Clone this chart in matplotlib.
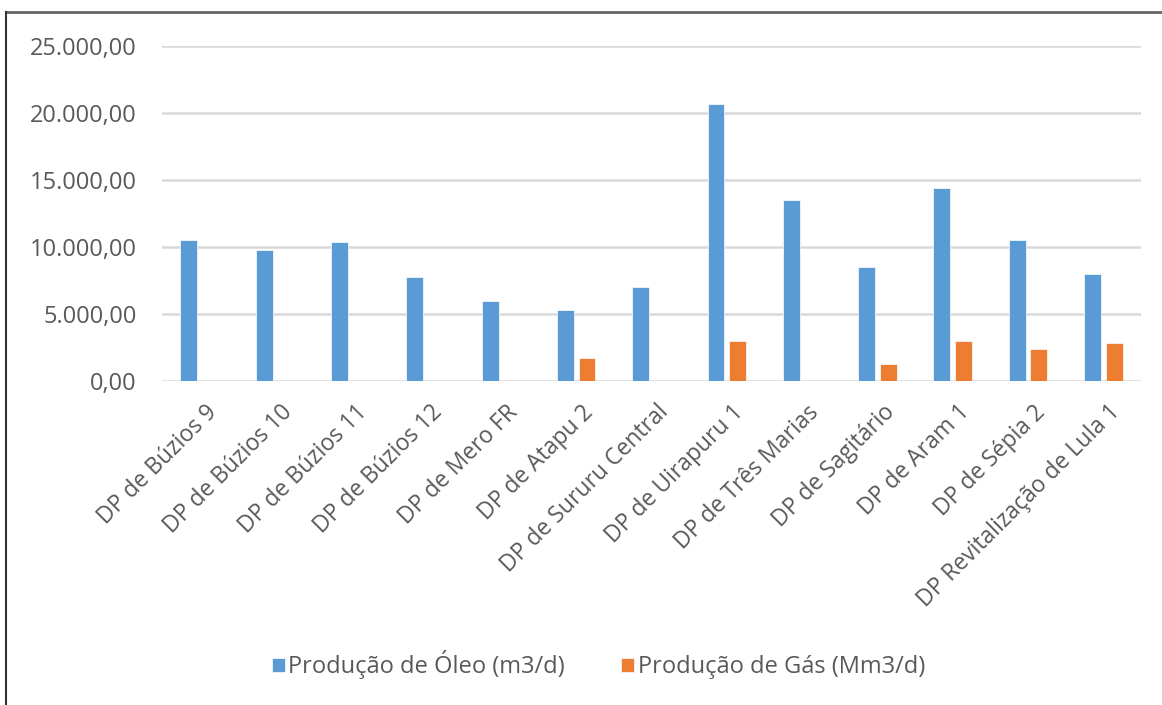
import numpy as np
import matplotlib.pyplot as plt
from matplotlib.lines import Line2D
from matplotlib.ticker import FuncFormatter
from matplotlib.transforms import ScaledTranslation

plt.rcParams['font.family'] = ['Open Sans', 'DejaVu Sans']

projetos = ['DP de Búzios 9', 'DP de Búzios 10', 'DP de Búzios 11', 'DP de Búzios 12',
            'DP de Mero FR', 'DP de Atapu 2', 'DP de Sururu Central', 'DP de Uirapuru 1',
            'DP de Três Marias', 'DP de Sagitário', 'DP de Aram 1', 'DP de Sépia 2',
            'DP Revitalização de Lula 1']
oleo = [10500, 9800, 10400, 7750, 6000, 5300, 7000, 20700, 13500, 8500, 14400, 10500, 8000]
gas = [0, 0, 0, 0, 0, 1750, 0, 2950, 0, 1300, 2950, 2400, 2800]

azul = '#5B9BD5'
laranja = '#ED7D31'
cinza = '#595959'

fig = plt.figure(figsize=(11.62, 7.05), dpi=100)
ax = fig.add_axes([0.1394, 0.4596, 0.8425, 0.4752])

x = np.arange(len(projetos))
w = 0.224
ax.bar(x - 0.143, oleo, w, color=azul, edgecolor='white', linewidth=0.5,
       label='Produção de Óleo (m3/d)', zorder=3)
ax.bar(x + 0.143, gas, w, color=laranja, edgecolor='white', linewidth=0.5,
       label='Produção de Gás (Mm3/d)', zorder=3)

ax.set_xlim(-0.5, len(projetos) - 0.5)
ax.set_ylim(0, 25000)
ax.set_yticks(np.arange(0, 25001, 5000))
ax.yaxis.set_major_formatter(FuncFormatter(
    lambda v, p: f'{v:,.2f}'.replace(',', 'X').replace('.', ',').replace('X', '.')))
ax.grid(axis='y', color='#d9d9d9', linewidth=1.8, zorder=0)
for s in ax.spines.values():
    s.set_visible(False)
ax.tick_params(axis='y', length=0, labelsize=17, labelcolor=cinza, pad=18)
ax.tick_params(axis='x', length=0, labelsize=16.5, labelcolor=cinza, pad=14)
ax.set_xticks(x)
ax.set_xticklabels(projetos, rotation=45, ha='right', va='top', rotation_mode='anchor')
desloc = ScaledTranslation(0.05, 0, fig.dpi_scale_trans)
for lbl in ax.get_xticklabels():
    lbl.set_transform(lbl.get_transform() + desloc)

fig.legend(loc='center', bbox_to_anchor=(0.515, 0.057), ncol=2, frameon=False,
           fontsize=17, labelcolor=cinza, handlelength=0.55, handleheight=0.55,
           handletextpad=0.15, columnspacing=2.4)

# moldura parcial (topo e esquerda)
fig.add_artist(Line2D([0.005, 1.0], [0.983, 0.983], color='#666666', linewidth=2))
fig.add_artist(Line2D([0.0055, 0.0055], [0.0, 0.983], color='#333333', linewidth=1.5))

fig.savefig('out.png', dpi=100)
